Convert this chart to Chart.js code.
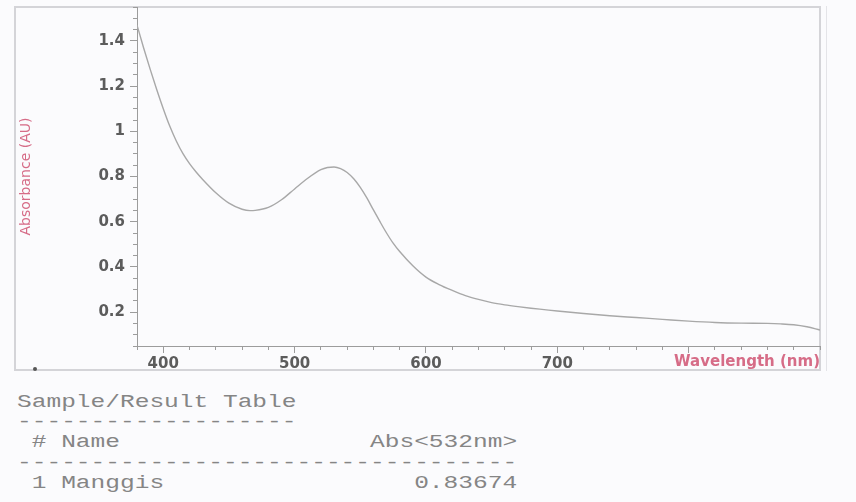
<!DOCTYPE html>
<html>
<head>
<meta charset="utf-8">
<script src="https://cdn.jsdelivr.net/npm/chart.js@4.4.1/dist/chart.umd.min.js"></script>
<style>
  body { margin:0; background:#fbfbfd; width:856px; height:502px; overflow:hidden; position:relative; }
  #frame { position:absolute; left:14px; top:6px; width:807px; height:365px; box-sizing:border-box; border:2px solid #d4d4d8; }
  #frame2 { position:absolute; left:826px; top:6px; width:1px; height:365px; background:#e4e4e8; }
  #dot { position:absolute; left:33px; top:367px; width:4px; height:4px; border-radius:2px; background:#555; }
  #plot { position:absolute; left:0; top:0; width:856px; height:380px; }
  #table { position:absolute; left:17px; top:392px; margin:0; font-family:"Liberation Mono", monospace; font-size:19px;
           line-height:20.2px; color:#858585; white-space:pre; transform:scaleX(1.29); transform-origin:0 0; }
</style>
</head>
<body>
<div id="frame"></div>
<div id="frame2"></div>
<div id="dot"></div>
<div id="plot"><canvas id="chart" width="856" height="380"></canvas></div>
<pre id="table"></pre>
<script>
// spectrum
const wavelengths = [380, 385, 390, 395, 400, 405, 410, 415, 420, 425, 430, 440, 450, 460, 466, 470, 480, 490, 500,
    510, 520, 525, 530, 535, 540, 545, 550, 555, 560, 565, 570, 575, 580, 590, 600, 610, 620, 630, 640,
    650, 660, 670, 680, 690, 700, 720, 740, 760, 780, 800, 820, 840, 860, 870, 880, 890, 900]
const absorbance = [1.47, 1.37, 1.275, 1.185, 1.10, 1.022, 0.956, 0.901, 0.857, 0.82, 0.787, 0.728, 0.682, 0.655, 0.649, 0.65, 0.663, 0.697, 0.745,
    0.792, 0.830, 0.840, 0.842, 0.835, 0.818, 0.790, 0.752, 0.705, 0.652, 0.600, 0.550, 0.505, 0.468, 0.405, 0.355, 0.322, 0.296, 0.273, 0.256,
    0.242, 0.232, 0.224, 0.217, 0.211, 0.205, 0.194, 0.184, 0.176, 0.168, 0.160, 0.154, 0.151, 0.150, 0.148, 0.144, 0.135, 0.121]

// axes
const xMajorTicks = [400, 500, 600, 700, 800]
const xHiddenLabels = [800]          // covered by the axis title on the printout
const yMajorTicks = [0.2, 0.4, 0.6, 0.8, 1.0, 1.2, 1.4]
const xTitle = 'Wavelength (nm)'
const yTitle = 'Absorbance (AU)'

// result table
const tableTitle = 'Sample/Result Table'
const measureNm = 532
const sampleIds = [1]
const sampleNames = ['Manggis']
const sampleAbs = [0.83674]

const axisGray = '#9c9c9c'
const tickGray = '#5c5c5c'
const titlePink = '#d66c87'
const tickFont = { family: 'DejaVu Sans', size: 15, weight: 'bold' }

const majorTicks = (list) => (scale) => { scale.ticks = list.map(v => ({ value: v })) }

const config = {
    type: 'line',
    data: {
        datasets: [{
            data: wavelengths.map((w, i) => ({ x: w, y: absorbance[i] })),
            borderColor: '#a8a8a8',
            borderWidth: 1.4,
            pointRadius: 0,
            cubicInterpolationMode: 'monotone',
            fill: false
        }]
    },
    options: {
        responsive: false,
        animation: false,
        layout: { padding: { top: 7, right: 36, left: 0, bottom: 0 } },
        plugins: { legend: { display: false }, tooltip: { enabled: false } },
        scales: {
            x: {
                type: 'linear', position: 'bottom', weight: 1, min: 380, max: 900,
                afterBuildTicks: majorTicks(xMajorTicks),
                afterFit: (s) => { s.height = 34; s.paddingLeft = 0; s.paddingRight = 0 },
                grid: { drawOnChartArea: false, tickLength: 7, tickColor: axisGray },
                border: { color: axisGray, width: 1 },
                ticks: {
                    autoSkip: false, maxRotation: 0, padding: 2, color: tickGray, font: tickFont,
                    callback: (v) => xHiddenLabels.includes(v) ? '' : v
                },
                title: {
                    display: true, text: xTitle, align: 'end', color: titlePink,
                    font: { family: 'DejaVu Sans', size: 15, weight: 'bold' },
                    padding: { top: 0, bottom: 9 }
                }
            },
            xMinor: {
                type: 'linear', position: 'bottom', weight: 0, min: 380, max: 900,
                afterFit: (s) => { s.height = 0; s.paddingLeft = 0; s.paddingRight = 0 },
                grid: { drawOnChartArea: false, tickLength: 4, tickColor: axisGray },
                border: { display: false },
                ticks: { display: false, stepSize: 20 }
            },
            y: {
                type: 'linear', position: 'left', weight: 1, min: 0.05, max: 1.55,
                afterBuildTicks: majorTicks(yMajorTicks),
                afterFit: (s) => { s.width = 137; s.paddingTop = 0; s.paddingBottom = 0 },
                grid: { drawOnChartArea: false, tickLength: 7, tickColor: axisGray },
                border: { color: axisGray, width: 1 },
                ticks: {
                    autoSkip: false, padding: 5, color: tickGray, font: tickFont,
                    callback: (v) => String(Number(v.toFixed(1)))
                },
                title: {
                    display: true, text: yTitle, color: titlePink,
                    font: { family: 'DejaVu Sans', size: 14 },
                    padding: { top: 18, bottom: 0 }
                }
            },
            yMinor: {
                type: 'linear', position: 'left', weight: 0, min: 0.05, max: 1.55,
                afterFit: (s) => { s.width = 0; s.paddingTop = 0; s.paddingBottom = 0 },
                grid: { drawOnChartArea: false, tickLength: 4, tickColor: axisGray },
                border: { display: false },
                ticks: { display: false, stepSize: 0.05 }
            }
        }
    }
}

new Chart(document.getElementById('chart').getContext('2d'), config)

// monospace result table, 34 columns wide like the printer output
const tableWidth = 34
const row = (a, b, c) => (' ' + a + ' ' + b).padEnd(tableWidth - c.length) + c
const lines = [
    tableTitle,
    '-'.repeat(tableTitle.length),
    row('#', 'Name', 'Abs<' + measureNm + 'nm>'),
    '-'.repeat(tableWidth),
    ...sampleIds.map((id, i) => row(id, sampleNames[i], sampleAbs[i].toFixed(5)))
]
document.getElementById('table').textContent = lines.join('\n')
</script>
</body>
</html>
